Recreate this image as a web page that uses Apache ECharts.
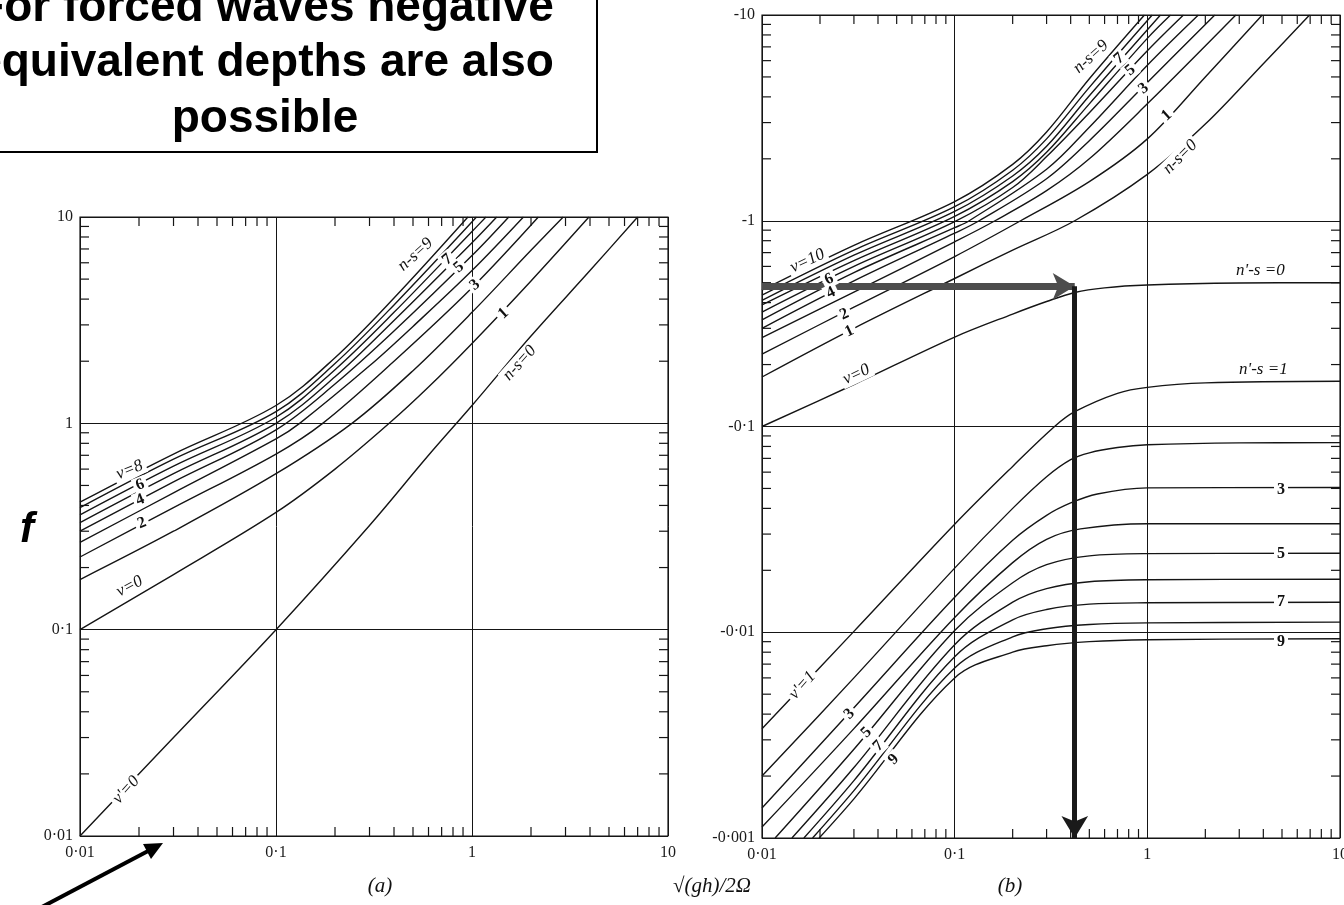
<!DOCTYPE html>
<html><head><meta charset="utf-8">
<script src="https://cdn.jsdelivr.net/npm/echarts@6/dist/echarts.min.js"></script>
<style>html,body{margin:0;padding:0;background:#fff}#c{width:1344px;height:905px}</style>
</head><body><div id="c"></div>
<script>
// ---------- tick labels ----------
const xTickLabels = ['0·01', '0·1', '1', '10'];            // 10^-2 .. 10^1
const aYTickLabels = ['0·01', '0·1', '1', '10'];           // 10^-2 .. 10^1
const bYTickLabels = ['-0·001', '-0·01', '-0·1', '-1', '-10']; // 10^-3 .. 10^1
const minorSteps = [2, 3, 4, 5, 6, 7, 8, 9];
const xDecades = [0.01, 0.1, 1];
const aYDecades = [0.01, 0.1, 1];
const bYDecades = [0.001, 0.01, 0.1, 1];

// ---------- panel (a): f against sqrt(gh)/2Omega ----------
const a_nuPrime0 = [[0.01,0.01],[0.03,0.03],[0.1,0.1],[0.3,0.32],[0.6,0.7],[1,1.22],[2,2.65],[4,5.5],[7,10]];
const a_nu0 = [[0.01,0.1],[0.03,0.185],[0.1,0.37],[0.2,0.6],[0.378,1.0],[0.6,1.5],[1,2.44],[2,4.9],[3.95,10]];
const a_nu1 = [[0.01,0.175],[0.03,0.3],[0.1,0.57],[0.244,1.0],[0.5,1.8],[1,3.45],[2,6.9],[2.92,10]];
const a_nu2 = [[0.01,0.225],[0.03,0.39],[0.1,0.71],[0.173,1.0],[0.4,2.0],[1,4.54],[2.18,10]];
const a_nu3 = [[0.01,0.265],[0.03,0.46],[0.1,0.84],[0.132,1.0],[0.3,1.9],[0.5,2.95],[1,5.5],[1.83,10]];
const a_nu4 = [[0.01,0.3],[0.03,0.52],[0.1,0.93],[0.2,1.55],[0.4,2.8],[1,6.5],[1.54,10]];
const a_nu5 = [[0.01,0.33],[0.03,0.57],[0.1,1.0],[0.2,1.68],[0.4,3.15],[1,7.5],[1.337,10]];
const a_nu6 = [[0.01,0.36],[0.03,0.62],[0.1,1.07],[0.2,1.82],[0.4,3.45],[1,8.5],[1.178,10]];
const a_nu7 = [[0.01,0.39],[0.03,0.67],[0.1,1.14],[0.2,1.95],[0.4,3.75],[1.054,10]];
const a_nu8 = [[0.01,0.415],[0.03,0.71],[0.1,1.22],[0.2,2.08],[0.4,4.05],[0.953,10]];

// ---------- panel (b): |f| for negative f ----------
const b_nu0 = [[0.01,0.1],[0.03,0.16],[0.1,0.272],[0.2,0.352],[0.3,0.405],[0.42,0.448],[0.6,0.472],[1,0.487],[3,0.498],[10,0.5]];
const b_nu1 = [[0.01,0.174],[0.03,0.3],[0.1,0.524],[0.2,0.72],[0.42,1.0],[1,1.68],[2,2.95],[4,5.8],[6.95,10]];
const b_nu2 = [[0.01,0.225],[0.03,0.38],[0.1,0.67],[0.22,1.0],[0.5,1.55],[1,2.5],[2,5.0],[3.95,10]];
const b_nu3 = [[0.01,0.27],[0.03,0.45],[0.1,0.79],[0.162,1.0],[0.3,1.4],[0.5,2.0],[1,3.7],[2.88,10]];
const b_nu4 = [[0.01,0.3],[0.03,0.51],[0.1,0.87],[0.134,1.0],[0.3,1.6],[0.5,2.45],[1,4.7],[2.24,10]];
const b_nu5 = [[0.01,0.33],[0.03,0.56],[0.1,0.925],[0.119,1.0],[0.3,1.78],[0.5,2.85],[1,5.7],[1.84,10]];
const b_nu6 = [[0.01,0.36],[0.03,0.6],[0.1,0.99],[0.2,1.45],[0.3,2.05],[0.5,3.35],[1,6.7],[1.54,10]];
const b_nu7 = [[0.01,0.39],[0.03,0.64],[0.1,1.05],[0.2,1.55],[0.3,2.15],[0.5,3.7],[1,7.7],[1.32,10]];
const b_nu8 = [[0.01,0.41],[0.03,0.68],[0.1,1.11],[0.2,1.65],[0.3,2.3],[0.5,4.05],[1.17,10]];
const b_nu9 = [[0.01,0.435],[0.03,0.72],[0.1,1.17],[0.2,1.76],[0.3,2.5],[0.5,4.45],[1.06,10]];
const b_nu10 = [[0.01,0.46],[0.03,0.76],[0.1,1.24],[0.2,1.88],[0.3,2.7],[0.5,4.9],[0.966,10]];
const b_nuPrime1 = [[0.01,0.0034],[0.03,0.0101],[0.1,0.0335],[0.2,0.064],[0.33,0.1],[0.42,0.118],[0.7,0.145],[1,0.155],[2,0.163],[10,0.166]];
const b_nuPrime2 = [[0.01,0.002],[0.03,0.006],[0.1,0.0205],[0.2,0.04],[0.3,0.057],[0.4,0.069],[0.5,0.0745],[0.7,0.079],[1,0.0815],[3,0.0833],[10,0.0835]];
const b_nuPrime3 = [[0.01,0.0014],[0.03,0.0043],[0.1,0.0148],[0.2,0.028],[0.3,0.037],[0.4,0.0425],[0.55,0.047],[1,0.0503],[10,0.0505]];
const b_nuPrime4 = [[0.01,0.00113],[0.03,0.0034],[0.1,0.0118],[0.2,0.0218],[0.3,0.0283],[0.45,0.0318],[1,0.0337],[10,0.0337]];
const b_nuPrime5 = [[0.0117,0.001],[0.03,0.0027],[0.1,0.0102],[0.2,0.0174],[0.3,0.0213],[0.5,0.0235],[1,0.0241],[10,0.0242]];
const b_nuPrime6 = [[0.0143,0.001],[0.03,0.0022],[0.1,0.0087],[0.2,0.014],[0.3,0.0163],[0.5,0.0176],[1,0.018],[10,0.0181]];
const b_nuPrime7 = [[0.0165,0.001],[0.03,0.0019],[0.1,0.0076],[0.2,0.0115],[0.3,0.0129],[0.5,0.0137],[1,0.0139],[10,0.014]];
const b_nuPrime8 = [[0.0183,0.001],[0.03,0.0017],[0.1,0.0067],[0.2,0.0095],[0.3,0.0104],[0.5,0.0109],[1,0.0111],[10,0.0112]];
const b_nuPrime9 = [[0.0198,0.001],[0.03,0.00155],[0.1,0.006],[0.2,0.008],[0.3,0.0086],[0.5,0.009],[1,0.0092],[10,0.0093]];

// ---------- curve labels: [x, value, text, rotation, breaks line] ----------
const aLabels = [
  [0.515,6.58,'n-s=9',42,false],[0.748,6.23,'7',40,true],[0.857,5.7,'5',40,true],
  [1.035,4.68,'3',40,true],[1.445,3.41,'1',42,true],[1.75,1.96,'n-s=0',48,true],
  [0.0179,0.594,'ν=8',22,true],[0.0203,0.503,'6',22,true],[0.0203,0.426,'4',22,true],
  [0.0207,0.328,'2',22,true],[0.0179,0.162,'ν=0',28,true],[0.0172,0.0167,"ν'=0",48,true]
];
const bLabels = [
  [0.0172,0.638,'ν=10',25,true],[0.0223,0.52,'6',25,true],[0.0228,0.447,'4',25,true],
  [0.0268,0.351,'2',25,true],[0.0284,0.29,'1',25,true],[0.0309,0.179,'ν=0',25,true],
  [0.51,6.26,'n-s=9',42,false],[0.713,6.15,'7',40,true],[0.818,5.39,'5',40,true],
  [0.958,4.39,'3',40,true],[1.26,3.25,'1',42,true],[1.48,2.04,'n-s=0',45,true],
  [3.86,0.57,"n'-s =0",0,false],[4.0,0.19,"n'-s =1",0,false],
  [4.94,0.0492,'3',0,true],[4.94,0.024,'5',0,true],[4.94,0.0141,'7',0,true],[4.94,0.00903,'9',0,true],
  [0.0162,0.00552,"ν'=1",48,true],[0.0284,0.00401,'3',45,true],[0.0348,0.00326,'5',45,true],
  [0.0402,0.0028,'7',45,true],[0.0482,0.00241,'9',45,true]
];

// ---------- read-out arrows in panel (b) ----------
const readoutStartX = 0.01;
const readoutX = 0.42;
const readoutF = 0.48;
const readoutEndF = 0.001;

const panelACurves = [a_nuPrime0, a_nu0, a_nu1, a_nu2, a_nu3, a_nu4, a_nu5, a_nu6, a_nu7, a_nu8];
const panelBCurves = [b_nu0, b_nu1, b_nu2, b_nu3, b_nu4, b_nu5, b_nu6, b_nu7, b_nu8, b_nu9, b_nu10,
  b_nuPrime1, b_nuPrime2, b_nuPrime3, b_nuPrime4, b_nuPrime5, b_nuPrime6, b_nuPrime7, b_nuPrime8, b_nuPrime9];

// ---------- build option ----------
const INK = '#151515';
const SERIF = '"Liberation Serif", "DejaVu Serif", serif';
function expIdx(v, off) { return Math.round(Math.log10(v)) + off; }

function axisCommon(labels, off, isX) {
  return {
    type: 'log', logBase: 10,
    axisLine: { show: false },
    axisTick: { show: false },
    minorTick: { show: false },
    splitLine: { show: true, lineStyle: { color: INK, width: 1 } },
    axisLabel: {
      color: '#1a1a1a', fontFamily: SERIF, fontSize: 16, margin: isX ? 9 : 7,
      showMinLabel: true, showMaxLabel: true, hideOverlap: false,
      formatter: v => labels[expIdx(v, off)] || ''
    }
  };
}

function tickData(xDec, yDec, xMin, yMin) {
  const out = [];
  xDec.forEach(d => minorSteps.forEach(m => out.push([d * m, yMin, 0])));
  yDec.forEach(d => minorSteps.forEach(m => out.push([xMin, d * m, 1])));
  return out;
}

function renderTicks(params, api) {
  const cs = params.coordSys;
  const p = api.coord([api.value(0), api.value(1)]);
  const L = 9;
  const st = { stroke: INK, lineWidth: 1.2 };
  if (api.value(2) === 0) {
    return { type: 'group', children: [
      { type: 'line', shape: { x1: p[0], y1: cs.y + cs.height, x2: p[0], y2: cs.y + cs.height - L }, style: st },
      { type: 'line', shape: { x1: p[0], y1: cs.y, x2: p[0], y2: cs.y + L }, style: st }
    ]};
  }
  return { type: 'group', children: [
    { type: 'line', shape: { x1: cs.x, y1: p[1], x2: cs.x + L, y2: p[1] }, style: st },
    { type: 'line', shape: { x1: cs.x + cs.width, y1: p[1], x2: cs.x + cs.width - L, y2: p[1] }, style: st }
  ]};
}

function curveSeries(data, gi) {
  return {
    type: 'line', xAxisIndex: gi, yAxisIndex: gi, data: data,
    showSymbol: false, symbol: 'none', smooth: 0.35, silent: true,
    lineStyle: { color: INK, width: 1.4 }, z: 2
  };
}

function isDigits(t) { return /^[0-9]+$/.test(t); }

function labelSeries(list, gi) {
  return {
    type: 'scatter', xAxisIndex: gi, yAxisIndex: gi, symbolSize: 2, silent: true, z: 5,
    itemStyle: { color: 'rgba(0,0,0,0)' },
    labelLayout: { hideOverlap: false },
    data: list.map(l => ({
      value: [l[0], l[1]], name: l[2],
      label: {
        show: true, position: 'inside', formatter: l[2], rotate: l[3], opacity: 1,
        color: '#111', fontFamily: SERIF, fontSize: isDigits(l[2]) ? 16 : 17,
        fontStyle: isDigits(l[2]) ? 'normal' : 'italic',
        fontWeight: isDigits(l[2]) ? 'bold' : 'normal',
        backgroundColor: l[4] ? '#fff' : 'transparent', padding: [0, 3]
      }
    }))
  };
}

const series = [];
panelACurves.forEach(c => series.push(curveSeries(c, 0)));
panelBCurves.forEach(c => series.push(curveSeries(c, 1)));
series.push({ type: 'custom', xAxisIndex: 0, yAxisIndex: 0, silent: true, z: 3, clip: false,
  encode: { x: 0, y: 1 }, renderItem: renderTicks, data: tickData(xDecades, aYDecades, 0.01, 0.01) });
series.push({ type: 'custom', xAxisIndex: 1, yAxisIndex: 1, silent: true, z: 3, clip: false,
  encode: { x: 0, y: 1 }, renderItem: renderTicks, data: tickData(xDecades, bYDecades, 0.01, 0.001) });
series.push(labelSeries(aLabels, 0));
series.push(labelSeries(bLabels, 1));
series.push({
  type: 'line', xAxisIndex: 1, yAxisIndex: 1, data: [], silent: true, z: 8,
  markLine: {
    silent: true, animation: false, symbol: ['none', 'arrow'], symbolSize: [20, 22],
    label: { show: false },
    data: [
      [{ coord: [readoutStartX, readoutF], lineStyle: { color: '#4d4d4d', width: 7, type: 'solid' } },
       { coord: [readoutX, readoutF] }],
      [{ coord: [readoutX, readoutF], lineStyle: { color: '#1a1a1a', width: 5, type: 'solid' } },
       { coord: [readoutX, readoutEndF] }]
    ]
  }
});

const option = {
  animation: false,
  backgroundColor: '#fff',
  grid: [
    { left: 80, top: 217, width: 588, height: 619, show: true, borderColor: INK, borderWidth: 1.2, outerBoundsMode: 'none', containLabel: false },
    { left: 762, top: 15, width: 578, height: 823, show: true, borderColor: INK, borderWidth: 1.2, outerBoundsMode: 'none', containLabel: false }
  ],
  xAxis: [
    Object.assign(axisCommon(xTickLabels, 2, true), { gridIndex: 0, min: 0.01, max: 10 }),
    Object.assign(axisCommon(xTickLabels, 2, true), { gridIndex: 1, min: 0.01, max: 10 })
  ],
  yAxis: [
    Object.assign(axisCommon(aYTickLabels, 2, false), { gridIndex: 0, min: 0.01, max: 10 }),
    Object.assign(axisCommon(bYTickLabels, 3, false), { gridIndex: 1, min: 0.001, max: 10 })
  ],
  series: series,
  graphic: [
    { type: 'rect', z: 50, shape: { x: -80, y: -60, width: 677, height: 212 },
      style: { fill: '#fff', stroke: '#000', lineWidth: 2 } },
    { type: 'text', z: 51, x: 265, y: 8, style: { text: 'For forced waves negative', font: 'bold 46px "Liberation Sans", Arial, sans-serif', fill: '#000', align: 'center', verticalAlign: 'middle' } },
    { type: 'text', z: 51, x: 265, y: 63, style: { text: 'equivalent depths are also', font: 'bold 46px "Liberation Sans", Arial, sans-serif', fill: '#000', align: 'center', verticalAlign: 'middle' } },
    { type: 'text', z: 51, x: 265, y: 119, style: { text: 'possible', font: 'bold 46px "Liberation Sans", Arial, sans-serif', fill: '#000', align: 'center', verticalAlign: 'middle' } },
    { type: 'text', z: 51, x: 27, y: 530, style: { text: 'f', font: 'italic bold 42px "Liberation Sans", Arial, sans-serif', fill: '#000', align: 'center', verticalAlign: 'middle' } },
    { type: 'text', z: 51, x: 380, y: 886, style: { text: '(a)', font: 'italic 21px ' + SERIF, fill: '#111', align: 'center', verticalAlign: 'middle' } },
    { type: 'text', z: 51, x: 712, y: 886, style: { text: '√(gh)/2Ω', font: 'italic 21px ' + SERIF, fill: '#111', align: 'center', verticalAlign: 'middle' } },
    { type: 'text', z: 51, x: 1010, y: 886, style: { text: '(b)', font: 'italic 21px ' + SERIF, fill: '#111', align: 'center', verticalAlign: 'middle' } },
    { type: 'line', z: 51, shape: { x1: 40, y1: 908, x2: 150, y2: 850 }, style: { stroke: '#000', lineWidth: 4 } },
    { type: 'polygon', z: 51, shape: { points: [[163, 843], [151, 859], [143, 844]] }, style: { fill: '#000' } }
  ]
};

const chart = echarts.init(document.getElementById('c'), null, { renderer: 'canvas' });
chart.setOption(option);
</script>
</body></html>
